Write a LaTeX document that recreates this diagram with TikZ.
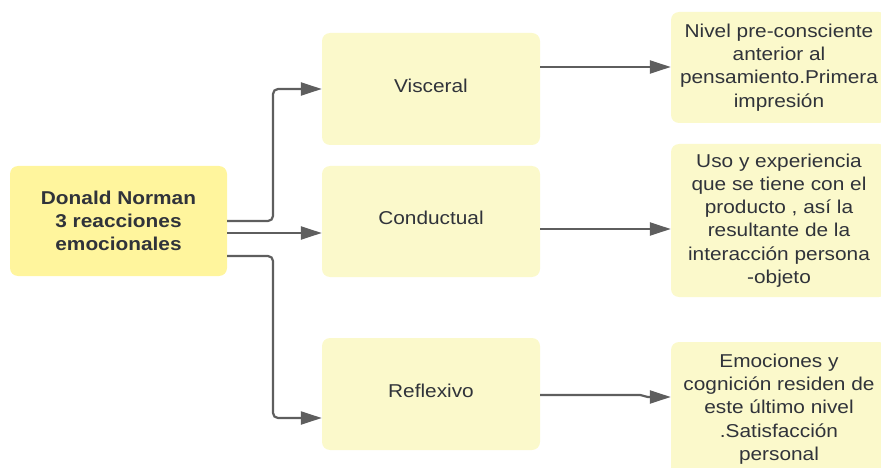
\documentclass[tikz,border=0pt]{standalone}
\usepackage{fontspec}
\setmainfont{Liberation Sans}[FakeStretch=1.12]
\usetikzlibrary{arrows.meta}
\definecolor{mainfill}{HTML}{FFF59D}
\definecolor{boxfill}{HTML}{FBF9CB}
\definecolor{ink}{HTML}{30333A}
\definecolor{wire}{HTML}{5E5E5E}
\begin{document}
\begin{tikzpicture}[x=1pt,y=-1pt,
  box/.style={rectangle, rounded corners=8pt, inner sep=0pt, align=center,
    text=ink, font=\fontsize{18.6}{23.3}\selectfont},
  level/.style={box, fill=boxfill, minimum width=218pt, text depth=7pt},
  note/.style={box, fill=boxfill, minimum width=216pt},
  conn/.style={draw=wire, line width=2.2pt, rounded corners=5pt,
    -{Triangle[length=21pt,width=13pt]}}]
\useasboundingbox (0,0) rectangle (881,468);

% central concept
\node[box, fill=mainfill, minimum width=217pt, minimum height=110pt,
  font=\fontsize{18.6}{23.3}\selectfont\bfseries] (main) at (118.5,221)
  {Donald Norman\\3 reacciones\\emocionales};

% the three levels
\node[level, minimum height=112pt] (visc) at (431,89) {Visceral};
\node[level, minimum height=111pt] (cond) at (431,221.5) {Conductual};
\node[level, minimum height=112pt] (refl) at (431,394) {Reflexivo};

% descriptions
\node[note, minimum height=111pt] (r1) at (779,67.5)
  {Nivel pre-consciente\\anterior al\\pensamiento.Primera\\impresión};
\node[note, minimum height=153pt] (r2) at (779,220.5)
  {Uso y experiencia\\que se tiene con el\\producto , así la\\resultante de la\\interacción persona\\-objeto};
\node[note, minimum height=134pt] (r3) at (779,409)
  {Emociones y\\cognición residen de\\este último nivel\\.Satisfacción\\personal};

% branches from the central concept
\draw[conn] (main.east |- 0,221) -- (273,221) -- (273,89) -- (visc.west |- 0,89);
\draw[conn] (main.east |- 0,233) -- (cond.west |- 0,233);
\draw[conn] (main.east |- 0,256) -- (273,256) -- (273,418) -- (refl.west |- 0,418);

% levels to descriptions
\draw[conn] (visc.east |- 0,67) -- (r1.west |- 0,67);
\draw[conn] (cond.east |- 0,229) -- (r2.west |- 0,229);
\draw[conn, rounded corners=2pt] (refl.east |- 0,395) -- (642,395) -- (646,397) -- (r3.west |- 0,397);
\end{tikzpicture}
\end{document}
